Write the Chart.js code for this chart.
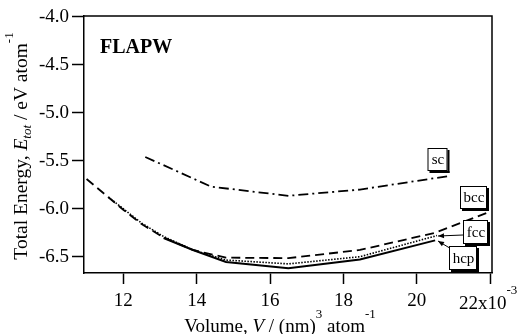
<!DOCTYPE html>
<html>
<head>
<meta charset="utf-8">
<script src="https://cdn.jsdelivr.net/npm/chart.js@4.4.1/dist/chart.umd.min.js"></script>
<style>
html,body{margin:0;padding:0;background:#fff;}
#wrap{width:518px;height:334px;position:relative;}
</style>
</head>
<body>
<div id="wrap"><canvas id="c" width="518" height="334"></canvas></div>
<script>
// ---- data (volume in 10^-3 nm^3/atom, energy in eV/atom) ----
const scV  = [12.6, 14.4, 16.5, 18.45, 20.85];
const scE  = [-5.46, -5.77, -5.865, -5.80, -5.66];
const bccV = [11.0, 11.5, 12.0, 12.5, 13.1, 13.9, 14.8, 16.5, 18.45, 20.5, 22.0];
const bccE = [-5.69, -5.85, -6.01, -6.16, -6.30, -6.43, -6.51, -6.515, -6.43, -6.25, -6.03];
const fccV = [11.6, 12.0, 12.5, 13.1, 13.9, 14.8, 16.5, 18.45, 20.55];
const fccE = [-5.88, -6.00, -6.15, -6.29, -6.43, -6.535, -6.575, -6.50, -6.28];
const hcpV = [13.1, 13.9, 14.8, 16.5, 18.45, 20.5];
const hcpE = [-6.305, -6.43, -6.555, -6.62, -6.53, -6.33];
const xTicks = [12, 14, 16, 18, 20, 22];
const yTicks = [-4.0, -4.5, -5.0, -5.5, -6.0, -6.5];
const seriesNames = ['sc', 'bcc', 'fcc', 'hcp'];

const SERIF = '"Liberation Serif", "Times New Roman", serif';
const pts = (xs, ys) => xs.map((x, i) => ({x: x, y: ys[i]}));

const labelBoxes = [
  {t: 'sc',  cx: 437.5, cy: 159.5, w: 20, h: 23},
  {t: 'bcc', cx: 473.5, cy: 197.5, w: 27, h: 23},
  {t: 'fcc', cx: 475.5, cy: 232,   w: 25, h: 24},
  {t: 'hcp', cx: 463,   cy: 258,   w: 28, h: 24}
];

function drawRich(ctx, parts, x, y, align) {
  let total = 0;
  parts.forEach(p => {
    ctx.font = (p.italic ? 'italic ' : '') + p.size + 'px ' + SERIF;
    p.w = ctx.measureText(p.t).width;
    total += p.w;
  });
  let cx = align === 'center' ? x - total / 2 : x;
  parts.forEach(p => {
    ctx.font = (p.italic ? 'italic ' : '') + p.size + 'px ' + SERIF;
    ctx.fillText(p.t, cx, y + (p.dy || 0));
    cx += p.w;
  });
}

function arrow(ctx, x1, y1, x2, y2) {
  ctx.beginPath();
  ctx.moveTo(x1, y1); ctx.lineTo(x2, y2);
  ctx.stroke();
  const a = Math.atan2(y2 - y1, x2 - x1);
  const L = 6, W = 2.5;
  ctx.beginPath();
  ctx.moveTo(x2, y2);
  ctx.lineTo(x2 - L * Math.cos(a) + W * Math.sin(a), y2 - L * Math.sin(a) - W * Math.cos(a));
  ctx.lineTo(x2 - L * Math.cos(a) - W * Math.sin(a), y2 - L * Math.sin(a) + W * Math.cos(a));
  ctx.closePath();
  ctx.fill();
}

const decor = {
  id: 'decor',
  afterDraw(chart) {
    const ctx = chart.ctx;
    const a = chart.chartArea;
    ctx.save();
    ctx.strokeStyle = '#000';
    ctx.fillStyle = '#000';
    ctx.lineWidth = 1.5;
    ctx.beginPath();
    ctx.moveTo(a.left, a.top); ctx.lineTo(a.right, a.top); ctx.lineTo(a.right, a.bottom);
    ctx.stroke();

    // FLAPW
    ctx.textBaseline = 'alphabetic';
    ctx.textAlign = 'left';
    ctx.font = 'bold 20px ' + SERIF;
    ctx.fillText('FLAPW', 100, 53);

    // arrows
    ctx.lineWidth = 1;
    arrow(ctx, 463, 235, 438, 236);
    arrow(ctx, 453, 250, 438, 241);

    // label boxes
    labelBoxes.forEach(b => {
      const x = b.cx - b.w / 2, y = b.cy - b.h / 2;
      ctx.fillStyle = '#fff';
      ctx.fillRect(x, y, b.w, b.h);
      ctx.fillStyle = '#000';
      ctx.lineWidth = 1;
      ctx.strokeRect(x + 0.5, y + 0.5, b.w - 1, b.h - 1);
      ctx.fillRect(x + 2, y + b.h, b.w, 2);
      ctx.fillRect(x + b.w, y + 2, 2, b.h);
      ctx.font = '15px ' + SERIF;
      ctx.textAlign = 'center';
      ctx.textBaseline = 'middle';
      ctx.fillText(b.t, b.cx + 0.5, b.cy + 1);
    });

    // 22x10^-3 tick label
    ctx.textAlign = 'left';
    ctx.textBaseline = 'alphabetic';
    const x22 = chart.scales.x.getPixelForValue(22);
    drawRich(ctx, [
      {t: '22x10', size: 19},
      {t: '-3', size: 13, dy: -15}
    ], x22 - 2, 309, 'center');

    // x title
    drawRich(ctx, [
      {t: 'Volume, ', size: 19},
      {t: 'V', size: 19, italic: true},
      {t: ' / (nm)', size: 19},
      {t: '3', size: 13, dy: -14},
      {t: ' atom', size: 19},
      {t: '-1', size: 13, dy: -14}
    ], 280, 332, 'center');

    // y title
    ctx.translate(27, 146);
    ctx.rotate(-Math.PI / 2);
    drawRich(ctx, [
      {t: 'Total Energy, ', size: 19.5},
      {t: 'E', size: 19.5, italic: true},
      {t: 'tot', size: 13, italic: true, dy: 4},
      {t: ' / eV atom', size: 19.5},
      {t: '-1', size: 13, dy: -14}
    ], 0, 0, 'center');
    ctx.restore();
  }
};

const common = {fill: false, pointRadius: 0, tension: 0, borderColor: '#000', showLine: true};

new Chart(document.getElementById('c'), {
  type: 'scatter',
  data: {
    datasets: [
      Object.assign({label: seriesNames[0], data: pts(scV, scE), borderWidth: 1.8, borderDash: [10, 4, 2, 4]}, common),
      Object.assign({label: seriesNames[1], data: pts(bccV, bccE), borderWidth: 1.8, borderDash: [9, 5]}, common),
      Object.assign({label: seriesNames[2], data: pts(fccV, fccE), borderWidth: 1.6, borderDash: [1.5, 1.5]}, common),
      Object.assign({label: seriesNames[3], data: pts(hcpV, hcpE), borderWidth: 2}, common)
    ]
  },
  options: {
    responsive: false,
    animation: false,
    devicePixelRatio: 1,
    layout: {padding: {top: 16, right: 26, left: 0, bottom: 0}},
    plugins: {legend: {display: false}, tooltip: {enabled: false}},
    scales: {
      x: {
        type: 'linear', min: 10.93, max: 22.05,
        afterFit: s => { s.height = 61; },
        afterBuildTicks: s => { s.ticks = xTicks.map(v => ({value: v})); },
        grid: {drawOnChartArea: false, drawTicks: true, tickLength: 11, tickColor: '#000', tickWidth: 1.5},
        border: {display: true, color: '#000', width: 1.5},
        ticks: {
          color: '#000', padding: 6, maxRotation: 0, autoSkip: false,
          font: {family: SERIF, size: 19},
          callback: v => (v === 22 ? '' : String(v))
        }
      },
      y: {
        type: 'linear', min: -6.67, max: -3.99,
        afterFit: s => { s.width = 84; },
        afterBuildTicks: s => { s.ticks = yTicks.map(v => ({value: v})); },
        grid: {drawOnChartArea: false, drawTicks: true, tickLength: 12, tickColor: '#000', tickWidth: 1.5},
        border: {display: true, color: '#000', width: 1.5},
        ticks: {
          color: '#000', padding: 3, autoSkip: false,
          font: {family: SERIF, size: 19},
          callback: v => v.toFixed(1)
        }
      }
    }
  },
  plugins: [decor]
});
</script>
</body>
</html>
